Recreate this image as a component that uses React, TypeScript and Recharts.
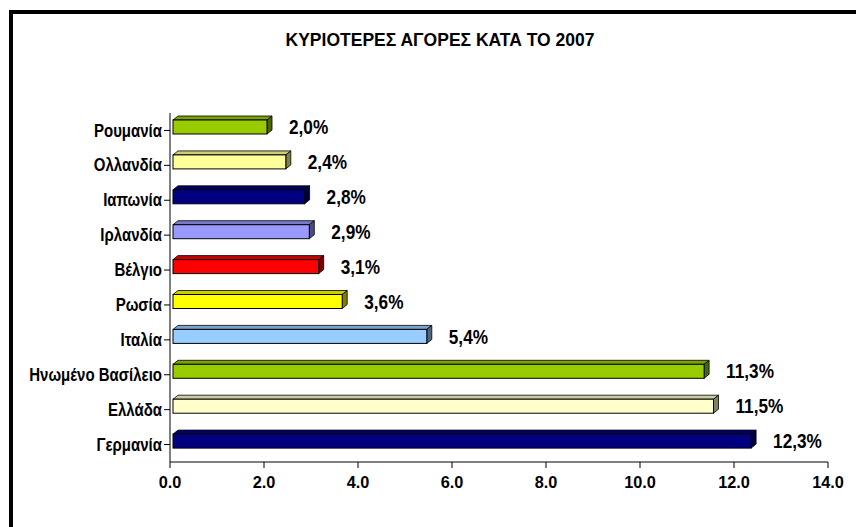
import React from 'react';
import {
  BarChart,
  Bar,
  XAxis,
  YAxis,
  Cell,
  LabelList,
} from 'recharts';

const COUNTRIES = [
  'Ρουμανία',
  'Ολλανδία',
  'Ιαπωνία',
  'Ιρλανδία',
  'Βέλγιο',
  'Ρωσία',
  'Ιταλία',
  'Ηνωμένο Βασίλειο',
  'Ελλάδα',
  'Γερμανία',
];

const SHARES = [2.0, 2.4, 2.8, 2.9, 3.1, 3.6, 5.4, 11.3, 11.5, 12.3];

const BAR_COLORS = [
  '#99CC00',
  '#FFFF99',
  '#000080',
  '#9999FF',
  '#FF0000',
  '#FFFF00',
  '#99CCFF',
  '#99CC00',
  '#FFFFCC',
  '#000080',
];

const X_TICKS = [0, 2, 4, 6, 8, 10, 12, 14];

const TITLE = 'ΚΥΡΙΟΤΕΡΕΣ ΑΓΟΡΕΣ ΚΑΤΑ ΤΟ 2007';

const FONT = '"Liberation Sans", Arial, sans-serif';

const data = COUNTRIES.map((name, i) => ({
  name,
  value: SHARES[i],
  color: BAR_COLORS[i],
}));

function shade(hex: string, f: number) {
  const n = parseInt(hex.slice(1), 16);
  const r = Math.round(((n >> 16) & 255) * f);
  const g = Math.round(((n >> 8) & 255) * f);
  const b = Math.round((n & 255) * f);
  return `rgb(${r},${g},${b})`;
}

// flat 3d bar, roughly like the old excel look
function Bar3D(props: any) {
  const { x, y, width, height, payload } = props;
  const c = payload.color;
  const fx = x + 3;
  const fy = y - 3;
  const d = 5;
  const dy = 4;
  const right = fx + width;
  return (
    <g>
      <polygon
        points={`${fx},${fy} ${fx + d},${fy - dy} ${right + d},${fy - dy} ${right},${fy}`}
        fill={shade(c, 0.8)}
        stroke="#000"
        strokeWidth={0.8}
      />
      <polygon
        points={`${right},${fy} ${right + d},${fy - dy} ${right + d},${fy + height - dy} ${right},${fy + height}`}
        fill={shade(c, 0.5)}
        stroke="#000"
        strokeWidth={0.8}
      />
      <rect x={fx} y={fy} width={width} height={height} fill={c} stroke="#000" strokeWidth={1} />
    </g>
  );
}

// the original uses a narrow bold face, squeeze regular bold instead
function CountryTick(props: any) {
  const { x, y, payload } = props;
  return (
    <g transform={`translate(${x},${y})`}>
      <text
        transform="scale(0.79,1)"
        textAnchor="end"
        dominantBaseline="central"
        fontFamily={FONT}
        fontWeight="bold"
        fontSize={19}
        fill="#000"
      >
        {payload.value}
      </text>
    </g>
  );
}

function ValueLabel(props: any) {
  const { x, y, width, height, value } = props;
  return (
    <g transform={`translate(${x + width + 25},${y + height / 2 - 3})`}>
      <text
        transform="scale(0.82,1)"
        dominantBaseline="central"
        fontFamily={FONT}
        fontWeight="bold"
        fontSize={21}
        fill="#000"
      >
        {value.toFixed(1).replace('.', ',')}%
      </text>
    </g>
  );
}

export default function App() {
  return (
    <div
      style={{
        position: 'absolute',
        left: 0,
        top: 0,
        width: 856,
        height: 527,
        overflow: 'hidden',
        background: '#fff',
      }}
    >
      <div
        style={{
          position: 'absolute',
          left: 9,
          top: 10,
          width: 900,
          height: 600,
          border: '4px solid #000',
        }}
      />
      <div
        style={{
          position: 'absolute',
          left: 0,
          width: 880,
          top: 28,
          textAlign: 'center',
          fontFamily: FONT,
          fontWeight: 'bold',
          fontSize: 17.5,
          lineHeight: '24px',
        }}
      >
        {TITLE}
      </div>
      <div style={{ position: 'absolute', left: 0, top: 0 }}>
        <BarChart
          width={856}
          height={527}
          data={data}
          layout="vertical"
          margin={{ top: 113, right: 28, bottom: 35, left: 0 }}
        >
          <XAxis
            type="number"
            domain={[0, 14]}
            ticks={X_TICKS}
            tickFormatter={(v: number) => v.toFixed(1)}
            height={30}
            tickSize={6}
            tickMargin={8}
            axisLine={{ stroke: '#000' }}
            tickLine={{ stroke: '#000' }}
            tick={{ fill: '#000', fontFamily: FONT, fontWeight: 'bold', fontSize: 16.3 }}
          />
          <XAxis
            xAxisId="top"
            orientation="top"
            type="number"
            domain={[0, 14]}
            height={0}
            tick={false}
            tickLine={false}
            axisLine={{ stroke: '#A0A0A0' }}
          />
          <YAxis
            type="category"
            dataKey="name"
            width={170}
            tickSize={6}
            tickMargin={2}
            interval={0}
            axisLine={{ stroke: '#000' }}
            tickLine={{ stroke: '#000' }}
            tick={<CountryTick />}
          />
          <YAxis
            yAxisId="right"
            orientation="right"
            type="category"
            dataKey="name"
            width={0}
            tick={false}
            tickLine={false}
            axisLine={{ stroke: '#A0A0A0' }}
          />
          <Bar
            dataKey="value"
            barSize={14}
            shape={<Bar3D />}
            isAnimationActive={false}
          >
            {data.map((d) => (
              <Cell key={d.name} fill={d.color} />
            ))}
            <LabelList dataKey="value" content={<ValueLabel />} />
          </Bar>
        </BarChart>
      </div>
    </div>
  );
}
